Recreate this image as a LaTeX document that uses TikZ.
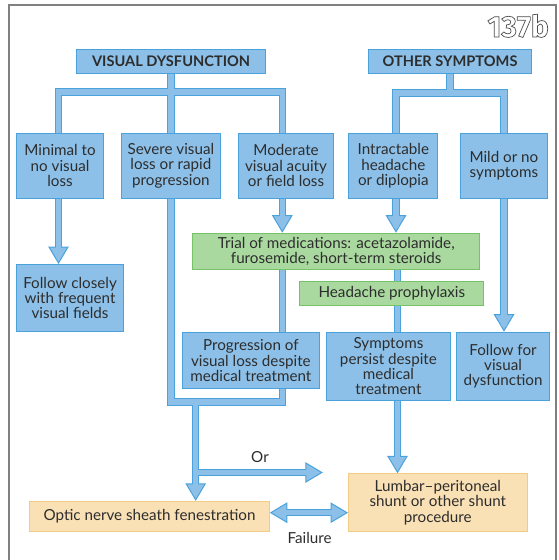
\documentclass[tikz,border=0pt]{standalone}
\usepackage{fontspec}
\setmainfont{Lato}
\newfontfamily\badgefont{Fira Sans}
\usetikzlibrary{arrows.meta,calc}

\definecolor{boxblue}{RGB}{141,192,232}
\definecolor{edgeblue}{RGB}{74,162,221}
\definecolor{boxgreen}{RGB}{170,217,160}
\definecolor{edgegreen}{RGB}{118,194,104}
\definecolor{boxtan}{RGB}{249,224,181}
\definecolor{edgetan}{RGB}{241,204,132}
\definecolor{ink}{RGB}{45,45,45}
\definecolor{framegray}{RGB}{128,128,128}

\pgfdeclarelayer{pipes}
\pgfsetlayers{pipes,main}

\tikzset{
  box/.style={draw, line width=1.1pt, anchor=north west, align=center,
    inner sep=1pt, text=ink, font=\fontsize{15.2}{15.3}\selectfont},
  bluebox/.style={box, draw=edgeblue, fill=boxblue},
  greenbox/.style={box, draw=edgegreen, fill=boxgreen},
  tanbox/.style={box, draw=edgetan, fill=boxtan},
  headbox/.style={bluebox, font=\fontsize{14.6}{15}\selectfont\bfseries},
  label/.style={text=ink, inner sep=0pt, font=\fontsize{15.2}{15.3}\selectfont},
  fathead/.tip={Triangle[width=20.6pt, length=17.5pt, line width=1pt, fill=boxblue]},
  outerpass/.style={
    pipe/.style={draw=edgeblue, line width=7.4pt},
    tipped/.style={-fathead},
    tipped2/.style={fathead-fathead}},
  innerpass/.style={
    pipe/.style={draw=boxblue, line width=5.2pt},
    tipped/.style={shorten >=6pt},
    tipped2/.style={shorten <=6pt, shorten >=6pt}},
}

% all connector pipes; drawn twice (outline pass, then fill pass)
\newcommand\pipework{%
  \draw[pipe] (vdbarL |- minimal.north) -- (vdbarL) -- (vdbarR) -- (vdbarR |- moderate.north);
  \draw[pipe] (vd.south) -- (vd.south |- severe.north);
  \draw[pipe] (osbarL |- intractable.north) -- (osbarL) -- (osbarR) -- (osbarR |- mild.north);
  \draw[pipe] (os.south) -- (os.south |- osbarL);
  \draw[pipe,tipped] (vdbarL |- minimal.south) -- (vdbarL |- follow.north);
  \draw[pipe,tipped] (vdbarR |- moderate.south) -- (vdbarR |- trial.north);
  \draw[pipe,tipped] (osbarL |- intractable.south) -- (osbarL |- trial.north);
  \draw[pipe,tipped] (osbarR |- mild.south) -- (osbarR |- followvis.north);
  \draw[pipe] (vdbarR |- trial.south) -- (vdbarR |- progress.north);
  \draw[pipe] (sympx |- trial.south) -- (sympx |- headache.north);
  \draw[pipe] (sympx |- headache.south) -- (sympx |- symptoms.north);
  \draw[pipe,tipped] (sympx |- symptoms.south) -- (sympx |- lumbar.north);
  \draw[pipe] (vd.south |- severe.south) -- (vd.south |- loopR) -- (loopR) -- (loopR |- progress.south);
  \draw[pipe,tipped] (dropTop) -- (dropTop |- optic.north);
  \draw[pipe,tipped] (orJoin) -- (orEnd);
  \draw[pipe,tipped2] (optic.east |- failY) -- (lumbar.west |- failY);
}

\begin{document}
\begin{tikzpicture}[x=1pt,y=-1pt]
\useasboundingbox (0,0) rectangle (558,560);

% outer frame (open at the bottom)
\draw[framegray, line width=2pt] (9,560) -- (9,5) -- (556,5) -- (556,560);

% figure number, outlined lettering
\node[anchor=north east, inner sep=0pt, text=ink!85] (badge) at (549,14)
  {\badgefont\bfseries\fontsize{30}{30}\selectfont\special{pdf:literal direct 1 Tr 0.7 w}137b\special{pdf:literal direct 0 Tr}};

% junction points of the pipes
\coordinate (vdbarL) at (58.5,92);
\coordinate (vdbarR) at (282.3,92);
\coordinate (osbarL) at (396,93);
\coordinate (osbarR) at (504,93);
\coordinate (sympx) at (397.5,0);
\coordinate (loopR) at (282.3,402);
\coordinate (dropTop) at (195.7,402);
\coordinate (orJoin) at (195.7,472.5);
\coordinate (orEnd) at (322.8,472.5);
\coordinate (failY) at (0,512.7);

% headings
\node[headbox, minimum width=189, minimum height=24] (vd) at (76,48.5) {VISUAL DYSFUNCTION};
\node[headbox, minimum width=163, minimum height=24] (os) at (368,49) {OTHER SYMPTOMS};

% first level
\node[bluebox, minimum width=87.6, minimum height=65] (minimal) at (15.7,132.7) {Minimal to\\no visual\\loss};
\node[bluebox, minimum width=99.3, minimum height=65] (severe) at (120.7,132.7) {Severe visual\\loss or rapid\\progression};
\node[bluebox, minimum width=94.4, minimum height=65] (moderate) at (238.3,132.7) {Moderate\\visual acuity\\or field loss};
\node[bluebox, minimum width=89, minimum height=65] (intractable) at (348.3,132.7) {Intractable\\headache\\or diplopia};
\node[bluebox, minimum width=86.7, minimum height=65] (mild) at (460,132.7) {Mild or no\\symptoms};

% treatment and follow-up
\node[bluebox, minimum width=107.6, minimum height=67] (follow) at (15.7,264) {Follow closely\\with frequent\\visual fields};
\node[greenbox, minimum width=286.7, minimum height=36.3] (trial) at (192.3,232.7) {Trial of medications: acetazolamide,\\furosemide, short-term steroids};
\node[greenbox, minimum width=184, minimum height=24] (headache) at (299.3,281) {Headache prophylaxis};
\node[bluebox, minimum width=137.7, minimum height=56.6] (progress) at (181.5,331.7) {Progression of\\visual loss despite\\medical treatment};
\node[bluebox, minimum width=123.2, minimum height=68.3] (symptoms) at (326.3,331.7) {Symptoms\\persist despite\\medical\\treatment};
\node[bluebox, minimum width=92.6, minimum height=68.3] (followvis) at (456.2,331.7) {Follow for\\visual\\dysfunction};

% surgical options
\node[tanbox, minimum width=239.5, minimum height=30] (optic) at (29.2,500.8) {Optic nerve sheath fenestration};
\node[tanbox, minimum width=178.5, minimum height=57.5] (lumbar) at (348,473.3) {Lumbar--peritoneal\\shunt or other shunt\\procedure};

% connector labels
\node[label] (orlabel) at (260,456.7) {Or};
\node[label] (faillabel) at (309.6,538.3) {Failure};

% pipes beneath the boxes
\begin{pgfonlayer}{pipes}
  \begin{scope}[outerpass] \pipework \end{scope}
  \begin{scope}[innerpass] \pipework \end{scope}
\end{pgfonlayer}
\end{tikzpicture}
\end{document}
